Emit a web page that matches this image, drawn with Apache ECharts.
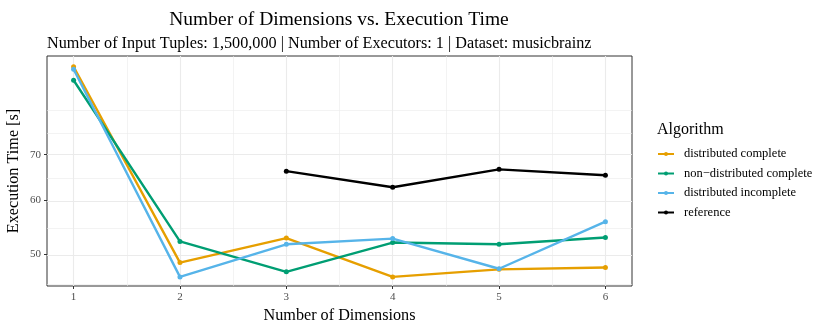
<!DOCTYPE html>
<html>
<head>
<meta charset="utf-8">
<script src="https://cdn.jsdelivr.net/npm/echarts@6/dist/echarts.min.js"></script>
<style>
  html, body { margin: 0; padding: 0; background: #fff; }
  #main { width: 830px; height: 332px; }
</style>
</head>
<body>
<div id="main"></div>
<script>
var chart = echarts.init(document.getElementById('main'));

// values
var dims = [1, 2, 3, 4, 5, 6];
var distComplete = [94.2, 48.6, 52.8, 46.3, 47.5, 47.8];
var nonDistComplete = [90.0, 52.2, 47.1, 52.0, 51.7, 52.9];
var distIncomplete = [93.4, 46.3, 51.7, 52.7, 47.6, 55.8];
var reference = [null, null, 66.2, 62.7, 66.6, 65.3];

var yTicks = [50, 60, 70];
var yMinor = [45.1, 54.8, 64.8, 75.5, 81.4];
var xMinor = [1.5, 2.5, 3.5, 4.5, 5.5];

var names = ['distributed complete', 'non\u2212distributed complete', 'distributed incomplete', 'reference'];
var colors = ['#E69F00', '#009E73', '#56B4E9', '#000000'];
var values = [distComplete, nonDistComplete, distIncomplete, reference];

// y axis is log scaled (like the original), so values go through Math.log
var ln = Math.log;
var font = 'Liberation Serif';

function pairs(arr) {
    return arr.map(function (v, i) { return [dims[i], v == null ? null : ln(v)]; });
}

var gridLines = [];
yTicks.forEach(function (v) { gridLines.push({ yAxis: ln(v), lineStyle: { width: 1.1 } }); });
yMinor.forEach(function (v) { gridLines.push({ yAxis: ln(v), lineStyle: { width: 0.6 } }); });
dims.forEach(function (v) { gridLines.push({ xAxis: v, lineStyle: { width: 1.1 } }); });
xMinor.forEach(function (v) { gridLines.push({ xAxis: v, lineStyle: { width: 0.6 } }); });

var series = [{
    type: 'line',
    data: [],
    z: 0,
    silent: true,
    markLine: {
        z: 0,
        silent: true,
        symbol: 'none',
        label: { show: false },
        lineStyle: { color: '#ebebeb', type: 'solid' },
        data: gridLines
    }
}];
values.forEach(function (arr, k) {
    series.push({
        name: names[k],
        type: 'line',
        data: pairs(arr),
        symbol: 'circle',
        symbolSize: 5,
        color: colors[k],
        lineStyle: { width: 2.4, color: colors[k] },
        itemStyle: { color: colors[k], borderWidth: 0 },
        z: 3
    });
});

var option = {
    animation: false,
    title: [{
        text: 'Number of Dimensions vs. Execution Time',
        left: 334, top: 5,
        textAlign: 'center',
        textStyle: { fontFamily: font, fontSize: 19.5, fontWeight: 'normal', color: '#000' }
    }, {
        text: 'Number of Input Tuples: 1,500,000 | Number of Executors: 1 | Dataset: musicbrainz',
        left: 42, top: 31,
        textStyle: { fontFamily: font, fontSize: 16.2, fontWeight: 'normal', color: '#000' }
    }, {
        text: 'Algorithm',
        left: 652, top: 117,
        textStyle: { fontFamily: font, fontSize: 16, fontWeight: 'normal', color: '#000' }
    }],
    legend: {
        data: names,
        orient: 'vertical',
        left: 652, top: 142,
        itemWidth: 16, itemHeight: 5, itemGap: 5.5,
        itemStyle: { borderWidth: 0 },
        textStyle: { fontFamily: font, fontSize: 12.5, lineHeight: 14, color: '#000', padding: [0, 0, 0, 5] }
    },
    grid: {
        left: 47, right: 198, top: 56, bottom: 46,
        outerBoundsMode: 'none',
        show: true, borderColor: '#333', borderWidth: 1, backgroundColor: 'transparent'
    },
    xAxis: {
        type: 'value',
        min: 0.75, max: 6.25,
        name: 'Number of Dimensions',
        nameLocation: 'middle', nameGap: 22,
        nameMoveOverlap: false,
        nameTextStyle: { fontFamily: font, fontSize: 16.2, color: '#000' },
        axisLine: { show: false },
        axisTick: { show: true, customValues: dims, length: 3, lineStyle: { color: '#333' } },
        axisLabel: { customValues: dims, fontFamily: font, fontSize: 11, color: '#4d4d4d', margin: 6 },
        splitLine: { show: false }
    },
    yAxis: {
        type: 'value',
        min: ln(44.9), max: ln(97.7),
        name: 'Execution Time [s]',
        nameLocation: 'middle', nameGap: 25, nameRotate: 90,
        nameMoveOverlap: false,
        nameTextStyle: { fontFamily: font, fontSize: 16.2, color: '#000' },
        axisLine: { show: false },
        axisTick: { show: true, customValues: yTicks.map(function (v) { return ln(v); }), length: 3, lineStyle: { color: '#333' } },
        axisLabel: {
            customValues: yTicks.map(function (v) { return ln(v); }),
            formatter: function (v) { return Math.round(Math.exp(v)); },
            fontFamily: font, fontSize: 11, color: '#4d4d4d', margin: 6
        },
        splitLine: { show: false }
    },
    series: series
};

chart.setOption(option);
</script>
</body>
</html>
